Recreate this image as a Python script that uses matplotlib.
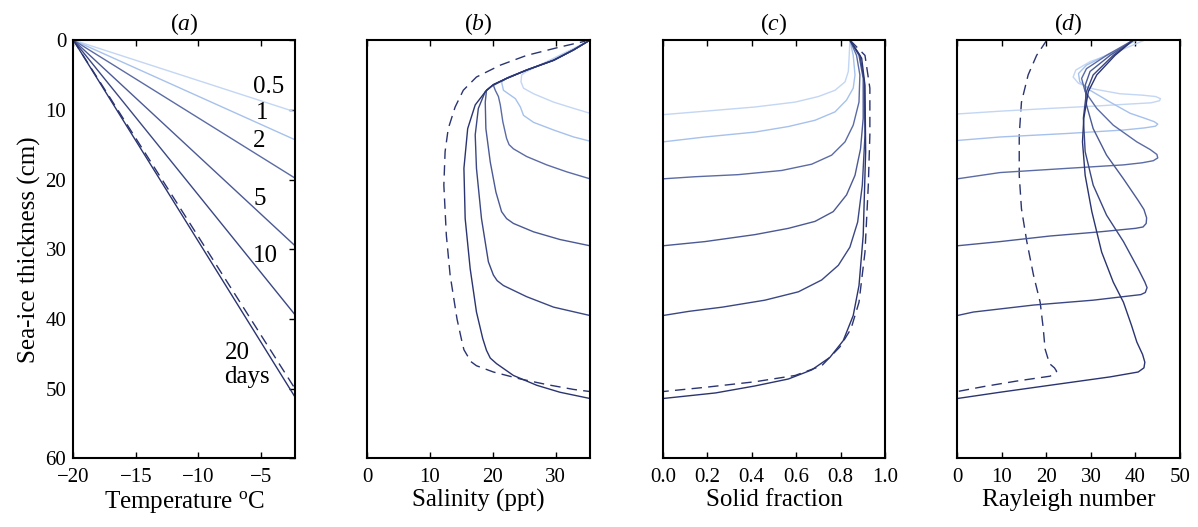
import matplotlib
matplotlib.use("Agg")
import matplotlib.pyplot as plt
from matplotlib.ticker import FormatStrFormatter

plt.rcParams['font.family'] = ['Liberation Serif', 'DejaVu Serif']
plt.rcParams['mathtext.fontset'] = 'custom'
plt.rcParams['mathtext.rm'] = 'Liberation Serif'
plt.rcParams['mathtext.it'] = 'Liberation Serif:italic'
plt.rcParams['axes.unicode_minus'] = True

# ---------------- data ----------------
days = ['0.5', '1', '2', '5', '10', '20']
colors = ['#c3d6f4', '#a6c1ec', '#5b6ba4', '#4b5994', '#3a4783', '#2a3470']
dash_color = '#2a3470'

# (a) temperature profiles (T in degC, depth z in cm)
temp_T = [-20, -2.25]
temp_z_05 = [0, 10.3]
temp_z_1 = [0, 14.3]
temp_z_2 = [0, 19.8]
temp_z_5 = [0, 29.5]
temp_z_10 = [0, 39.4]
temp_z_20 = [0, 51.2]
temp_z_dash = [0, 50.0]

# (b) salinity profiles
sal_05_S = [35.5, 32.9, 29.7, 27.0, 25.2, 24.6, 24.5, 24.9, 26.5, 29.7, 32.9, 35.5]
sal_05_z = [0, 1.2, 2.6, 3.8, 4.6, 5.0, 6.0, 6.9, 7.7, 8.9, 9.8, 10.5]
sal_1_S = [35.5, 32.9, 29.7, 25.4, 22.5, 21.4, 21.7, 23.6, 24.4, 24.9, 26.5, 29.7, 32.9, 35.5]
sal_1_z = [0, 1.3, 2.8, 4.3, 5.3, 6.0, 7.2, 8.4, 9.6, 10.8, 11.8, 12.9, 13.9, 14.5]
sal_2_S = [35.5, 32.9, 29.7, 25.4, 22.2, 20.1, 20.4, 20.9, 21.2, 21.6, 22.2, 22.6, 23.3, 25.4, 28.6, 31.8, 35.5]
sal_2_z = [0, 1.4, 2.9, 4.3, 5.5, 6.5, 7.2, 8.1, 9.3, 11.7, 14.1, 15.0, 15.6, 16.7, 17.9, 18.9, 19.9]
sal_5_S = [35.5, 32.9, 29.7, 25.4, 22.2, 20.1, 19.0, 18.8, 18.9, 19.6, 20.5, 21.4, 22.2, 23.3, 26.5, 30.7, 35.5]
sal_5_z = [0, 1.4, 2.9, 4.3, 5.5, 6.4, 7.2, 8.9, 12.7, 17.5, 21.8, 24.6, 25.6, 26.3, 27.5, 28.6, 29.5]
sal_10_S = [35.5, 32.9, 29.7, 25.4, 22.2, 20.1, 18.8, 17.7, 17.2, 17.4, 18.2, 19.3, 20.1, 20.7, 21.7,
            25.4, 29.7, 35.5]
sal_10_z = [0, 1.4, 2.9, 4.3, 5.5, 6.4, 7.4, 9.8, 13.6, 18.4, 25.6, 31.8, 33.7, 34.5, 35.2,
            36.8, 38.3, 39.5]
sal_20_S = [35.5, 32.9, 29.7, 25.4, 22.2, 20.1, 19.0, 17.2, 16.0, 15.4, 15.6, 16.4, 17.4, 18.4, 19.0,
            19.6, 20.6, 23.3, 27.0, 30.7, 35.5]
sal_20_z = [0, 1.4, 2.9, 4.3, 5.5, 6.4, 7.2, 9.3, 12.7, 18.4, 25.6, 32.8, 39.0, 42.8, 44.5,
            45.6, 46.4, 48.1, 49.5, 50.5, 51.4]
sal_dash_S = [35.5, 30.7, 25.4, 21.2, 17.4, 15.3, 14.0, 12.9, 12.4, 12.2, 12.6, 13.2, 14.3, 15.1,
              15.4, 16.5, 17.4, 20.1, 24.4, 28.6, 32.9, 35.5]
sal_dash_z = [0, 1.0, 2.2, 3.6, 5.3, 7.2, 9.6, 12.7, 16.0, 20.8, 28.0, 33.7, 40.0, 43.3,
              44.4, 46.1, 46.7, 47.6, 48.6, 49.4, 50.1, 50.4]

# (c) solid fraction profiles
sf_05_phi = [0.842, 0.839, 0.835, 0.82, 0.775, 0.70, 0.595, 0.414, 0.189, 0.0]
sf_05_z = [0, 2.2, 4.5, 6.0, 7.2, 8.1, 8.9, 9.6, 10.2, 10.7]
sf_1_phi = [0.842, 0.857, 0.865, 0.857, 0.827, 0.775, 0.685, 0.565, 0.414, 0.189, 0.0]
sf_1_z = [0, 2.2, 5.0, 6.9, 8.6, 10.3, 11.5, 12.4, 13.2, 13.9, 14.6]
sf_2_phi = [0.842, 0.872, 0.887, 0.883, 0.857, 0.82, 0.76, 0.67, 0.535, 0.339, 0.144, 0.0]
sf_2_z = [0, 2.2, 5.0, 8.9, 12.2, 14.6, 16.5, 17.8, 18.7, 19.3, 19.6, 19.9]
sf_5_phi = [0.842, 0.883, 0.902, 0.902, 0.89, 0.865, 0.827, 0.767, 0.685, 0.565, 0.414, 0.189, 0.0]
sf_5_z = [0, 2.2, 5.5, 11.2, 15.6, 19.4, 22.2, 24.6, 26.0, 27.0, 27.9, 28.9, 29.5]
sf_10_phi = [0.842, 0.887, 0.907, 0.91, 0.898, 0.877, 0.842, 0.79, 0.715, 0.61, 0.459, 0.267, 0.117, 0.0]
sf_10_z = [0, 2.2, 6.0, 13.6, 20.8, 26.1, 29.7, 32.3, 34.4, 36.1, 37.3, 38.3, 38.9, 39.5]
sf_20_phi = [0.842, 0.895, 0.91, 0.913, 0.902, 0.883, 0.857, 0.812, 0.752, 0.67, 0.565, 0.414, 0.237, 0.0]
sf_20_z = [0, 2.6, 6.5, 16.0, 28.0, 35.2, 39.5, 43.1, 45.5, 47.3, 48.6, 49.6, 50.6, 51.4]
sf_dash_phi = [0.842, 0.91, 0.932, 0.932, 0.925, 0.91, 0.883, 0.847, 0.797, 0.715, 0.595, 0.414, 0.189, 0.0]
sf_dash_z = [0, 2.2, 6.9, 13.6, 20.8, 30.4, 37.6, 41.4, 44.0, 46.7, 48.1, 49.0, 49.8, 50.4]

# (d) Rayleigh number profiles
ra_05 = [42.1, 35.8, 29.8, 26.6, 26.0, 27.2, 30.5, 36.5, 41.5, 44.5, 45.6, 45.4, 43.5, 38.0, 30.0,
         20.8, 9.6, 0.0]
ra_05_z = [0, 1.7, 3.1, 4.3, 5.3, 6.2, 7.0, 7.7, 7.9, 8.1, 8.4, 8.7, 9.0, 9.2, 9.5,
           9.8, 10.2, 10.6]
ra_1 = [40.3, 34.3, 29.0, 27.2, 27.5, 29.8, 34.3, 38.8, 42.0, 44.2, 45.0, 44.5, 42.0, 37.3, 24.6, 9.6, 0.0]
ra_1_z = [0, 1.9, 3.6, 4.8, 6.0, 7.2, 8.9, 10.5, 11.2, 11.7, 12.05, 12.35, 12.6, 12.9, 13.4, 13.9, 14.4]
ra_2 = [39.5, 33.5, 29.0, 27.9, 28.7, 31.3, 35.0, 40.3, 43.3, 44.8, 45.0, 44.0, 41.5, 37.3, 24.6, 9.6, 0.0]
ra_2_z = [0, 2.2, 4.1, 5.5, 7.4, 9.8, 12.2, 14.6, 15.7, 16.4, 16.9, 17.3, 17.6, 17.9, 18.4, 19.0, 19.9]
ra_5 = [39.5, 34.3, 29.8, 28.7, 29.0, 30.5, 33.5, 37.3, 40.6, 41.9, 42.5, 42.4, 41.7, 40.0, 32.0,
        20.8, 9.6, 0.0]
ra_5_z = [0, 2.2, 4.5, 6.5, 9.3, 12.7, 16.5, 19.9, 23.0, 24.3, 25.5, 26.3, 26.8, 27.0, 27.5,
          28.1, 28.9, 29.5]
ra_10 = [39.5, 35.0, 30.5, 29.0, 28.3, 28.7, 30.5, 33.5, 37.3, 40.6, 42.1, 42.6, 42.2, 41.2, 30.5,
         17.1, 3.6, 0.0]
ra_10_z = [0, 2.2, 5.0, 7.4, 11.2, 16.0, 20.8, 25.1, 28.9, 32.8, 34.7, 35.5, 36.2, 36.5, 37.3,
           38.0, 39.0, 39.5]
ra_20 = [39.5, 35.4, 31.3, 29.4, 28.4, 28.1, 28.7, 30.2, 32.4, 35.0, 37.3, 39.1, 40.3, 41.6, 42.1,
         41.9, 40.6, 34.3, 20.8, 9.6, 0.0]
ra_20_z = [0, 2.2, 5.0, 7.4, 11.2, 14.6, 19.4, 24.6, 30.4, 34.7, 37.6, 40.9, 43.3, 45.1, 46.2,
           47.0, 47.6, 48.3, 49.5, 50.5, 51.4]
ra_dash = [20.1, 17.8, 15.9, 14.4, 13.9, 13.9, 14.4, 15.6, 17.1, 18.6, 19.3, 19.7, 20.7, 21.8, 22.3,
           21.8, 20.8, 13.3, 5.8, 0.0]
ra_dash_z = [0, 2.2, 5.0, 8.9, 13.6, 19.4, 24.2, 28.9, 33.7, 37.6, 41.4, 44.3, 46.4, 47.0, 47.5,
             47.9, 48.2, 48.9, 49.7, 50.4]

# ---------------- figure ----------------
fig = plt.figure(figsize=(11.98, 5.27), dpi=100)
bottom, height = 0.130, 0.794
lefts = [0.0612, 0.3066, 0.5534, 0.7991]
widths = [0.1851, 0.1859, 0.1853, 0.1859]
axes = [fig.add_axes([l, bottom, w, height]) for l, w in zip(lefts, widths)]

LW = 1.0
DASH = (0, (7.5, 4.5))
tick_fs = 15
label_fs = 18

panels = [
    ([(temp_T, temp_z_05), (temp_T, temp_z_1), (temp_T, temp_z_2), (temp_T, temp_z_5),
      (temp_T, temp_z_10), (temp_T, temp_z_20)], (temp_T, temp_z_dash)),
    ([(sal_05_S, sal_05_z), (sal_1_S, sal_1_z), (sal_2_S, sal_2_z), (sal_5_S, sal_5_z),
      (sal_10_S, sal_10_z), (sal_20_S, sal_20_z)], (sal_dash_S, sal_dash_z)),
    ([(sf_05_phi, sf_05_z), (sf_1_phi, sf_1_z), (sf_2_phi, sf_2_z), (sf_5_phi, sf_5_z),
      (sf_10_phi, sf_10_z), (sf_20_phi, sf_20_z)], (sf_dash_phi, sf_dash_z)),
    ([(ra_05, ra_05_z), (ra_1, ra_1_z), (ra_2, ra_2_z), (ra_5, ra_5_z),
      (ra_10, ra_10_z), (ra_20, ra_20_z)], (ra_dash, ra_dash_z)),
]

for ax, (solids, dashed) in zip(axes, panels):
    ax.plot(dashed[0], dashed[1], color=dash_color, lw=LW, linestyle=DASH)
    for (x, z), c in zip(solids, colors):
        ax.plot(x, z, color=c, lw=LW, solid_joinstyle='round')
    ax.set_ylim(60, 0)
    for s in ax.spines.values():
        s.set_linewidth(1.5)
    ax.tick_params(axis='x', direction='in', top=True, bottom=True, length=4,
                   width=1.0, labelsize=tick_fs, pad=7)

# panel a
ax = axes[0]
ax.set_xlim(-20, -2.25)
ax.set_xticks([-20, -15, -10, -5])
ax.set_yticks([0, 10, 20, 30, 40, 50, 60])
ax.tick_params(axis='y', direction='in', left=False, right=True, labelleft=True,
               length=4, width=1.0, labelsize=tick_fs, pad=5)
ax.set_ylabel('Sea-ice thickness (cm)', fontsize=label_fs, labelpad=3)
ax.set_xlabel(r'Temperature $^{\mathrm{o}}$C', fontsize=label_fs, labelpad=1)
lab_fs = 18
ax.text(-5.6, 6.7, '0.5', fontsize=lab_fs, ha='left', va='center')
ax.text(-5.4, 10.4, '1', fontsize=lab_fs, ha='left', va='center')
ax.text(-5.6, 14.5, '2', fontsize=lab_fs, ha='left', va='center')
ax.text(-5.6, 22.8, '5', fontsize=lab_fs, ha='left', va='center')
ax.text(-5.6, 30.9, '10', fontsize=lab_fs, ha='left', va='center')
ax.text(-7.9, 44.9, '20', fontsize=lab_fs, ha='left', va='center')
ax.text(-7.9, 48.3, 'days', fontsize=lab_fs, ha='left', va='center')

# panel b
ax = axes[1]
ax.set_xlim(0, 35.5)
ax.set_xticks([0, 10, 20, 30])
ax.set_yticks([])
ax.set_xlabel('Salinity (ppt)', fontsize=label_fs, labelpad=1)

# panel c
ax = axes[2]
ax.set_xlim(0, 1)
ax.set_xticks([0, 0.2, 0.4, 0.6, 0.8, 1.0])
ax.xaxis.set_major_formatter(FormatStrFormatter('%.1f'))
ax.set_yticks([])
ax.set_xlabel('Solid fraction', fontsize=label_fs, labelpad=1)

# panel d
ax = axes[3]
ax.set_xlim(0, 50)
ax.set_xticks([0, 10, 20, 30, 40, 50])
ax.set_yticks([])
ax.set_xlabel('Rayleigh number', fontsize=label_fs, labelpad=1)

for ax, letter in zip(axes, 'abcd'):
    ax.set_title(r'($\mathit{%s}$)' % letter, fontsize=17, pad=7)

fig.savefig('out.png', dpi=100)
